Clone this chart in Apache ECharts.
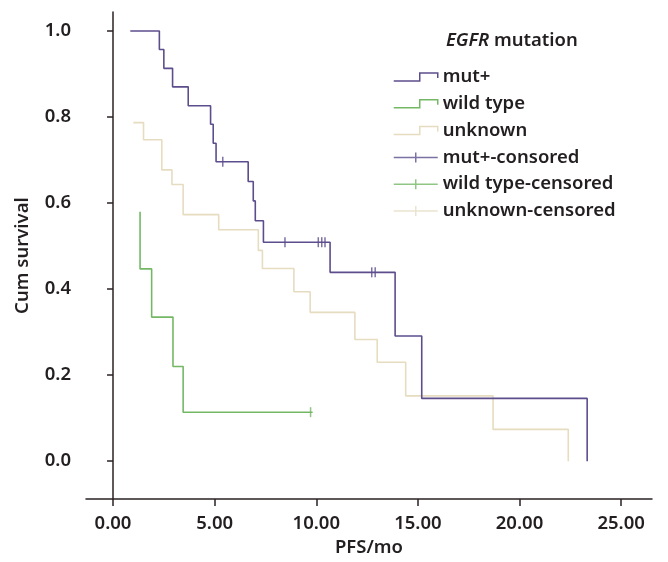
<!doctype html>
<html>
<head>
<meta charset="utf-8">
<script src="https://cdn.jsdelivr.net/npm/echarts@6/dist/echarts.min.js"></script>
<style>
    html, body {margin: 0; padding: 0; background: #fff;}
    #chart {width: 668px; height: 562px;}
</style>
</head>
<body>
<div id="chart"></div>
<script>
    // 读图估计的数据 (PFS 月, 累计生存率)
    var mutTimes = [0.85, 2.28, 2.5, 2.93, 3.7, 4.8, 4.93, 5.07, 6.65, 6.9, 7.0, 7.4, 10.68, 13.88, 15.19, 23.33];
    var mutSurv = [1.0, 0.957, 0.913, 0.870, 0.826, 0.783, 0.739, 0.696, 0.650, 0.605, 0.559, 0.509, 0.439, 0.291, 0.146, 0.0];
    var mutCensT = [5.4, 8.46, 10.1, 10.27, 10.43, 12.73, 12.9];
    var mutCensS = [0.696, 0.509, 0.509, 0.509, 0.509, 0.439, 0.439];

    var wildTimes = [1.33, 1.33, 1.9, 2.95, 3.45, 9.82];
    var wildSurv = [0.58, 0.447, 0.335, 0.22, 0.114, 0.114];
    var wildCensT = [9.72];
    var wildCensS = [0.114];

    var unkTimes = [1.0, 1.5, 2.4, 2.9, 3.45, 5.2, 7.15, 7.35, 8.9, 9.7, 11.9, 13.0, 14.4, 18.7, 22.4];
    var unkSurv = [0.787, 0.747, 0.677, 0.643, 0.573, 0.538, 0.49, 0.448, 0.394, 0.346, 0.283, 0.230, 0.152, 0.074, 0.0];
    var unkCensT = [];
    var unkCensS = [];

    var xTicks = [0, 5, 10, 15, 20, 25];
    var yTicks = [0, 0.2, 0.4, 0.6, 0.8, 1.0];

    function pairs(xs, ys) {
        var out = [];
        for (var i = 0; i < xs.length; i++) out.push([xs[i], ys[i]]);
        return out;
    }

    var cMut = '#5d4d8d', cWild = '#74b865', cUnk = '#e6dcc0';
    var font = '"Noto Sans", sans-serif';
    var txt = '#231f20';
    var stepIcon = 'path://M0,9 L26,9 L26,1 L44,1 L44,6';
    var censIcon = 'path://M0,5 L44,5 M22,0 L22,10';

    function legendItem(name, icon, color) {
        return {
            name: name, icon: icon,
            itemStyle: {color: 'rgba(0,0,0,0)', borderColor: color, borderWidth: 1.5}
        };
    }

    var myChart = echarts.init(document.getElementById('chart'));
    var option = {
        animation: false,
        backgroundColor: '#fff',
        title: {
            text: '{i|EGFR} mutation',
            left: 446, top: 31, padding: 0,
            textStyle: {
                fontFamily: font, fontSize: 18.5, fontWeight: 600, color: txt,
                rich: {i: {fontFamily: font, fontSize: 18.5, fontWeight: 600, fontStyle: 'italic', color: txt}}
            }
        },
        legend: {
            orient: 'vertical',
            left: 393, top: 67, padding: 0,
            itemWidth: 44, itemHeight: 10,
            itemGap: 6.8,
            selectedMode: false,
            textStyle: {fontFamily: font, fontSize: 18.5, fontWeight: 600, color: txt, lineHeight: 20},
            data: [
                legendItem('mut+', stepIcon, cMut),
                legendItem('wild type', stepIcon, cWild),
                legendItem('unknown', stepIcon, cUnk),
                legendItem('mut+-consored', censIcon, cMut),
                legendItem('wild type-censored', censIcon, cWild),
                legendItem('unknown-censored', censIcon, cUnk)
            ]
        },
        grid: {left: 86, right: 16, top: 12, bottom: 62},
        xAxis: {
            type: 'value',
            min: -1.33, max: 26.52,
            name: 'PFS/mo',
            nameLocation: 'middle',
            nameGap: 38,
            nameTextStyle: {fontFamily: font, fontSize: 18.5, fontWeight: 600, color: txt},
            axisLine: {onZero: false, lineStyle: {color: '#2b2223', width: 1.5}},
            axisTick: {show: true, length: 7, customValues: xTicks, lineStyle: {color: '#2b2223', width: 1.5}},
            axisLabel: {
                customValues: xTicks, margin: 15,
                fontFamily: font, fontSize: 18.5, fontWeight: 600, color: txt,
                formatter: function (v) { return v.toFixed(2); }
            },
            splitLine: {show: false}
        },
        yAxis: {
            type: 'value',
            min: -0.088, max: 1.044,
            name: 'Cum survival',
            nameLocation: 'middle',
            nameGap: 54,
            nameTextStyle: {fontFamily: font, fontSize: 18.5, fontWeight: 600, color: txt},
            axisLine: {show: true, lineStyle: {color: '#2b2223', width: 1.5}},
            axisTick: {show: true, length: 6, customValues: yTicks, lineStyle: {color: '#2b2223', width: 1.5}},
            axisLabel: {
                customValues: yTicks, margin: 15,
                fontFamily: font, fontSize: 18.5, fontWeight: 600, color: txt,
                formatter: function (v) { return v.toFixed(1); }
            },
            splitLine: {show: false}
        },
        series: [
            {
                name: 'unknown', type: 'line', step: 'end', symbol: 'none',
                lineStyle: {color: cUnk, width: 1.6}, itemStyle: {color: cUnk},
                data: pairs(unkTimes, unkSurv)
            },
            {
                name: 'wild type', type: 'line', step: 'end', symbol: 'none',
                lineStyle: {color: cWild, width: 1.6}, itemStyle: {color: cWild},
                data: pairs(wildTimes, wildSurv)
            },
            {
                name: 'mut+', type: 'line', step: 'end', symbol: 'none',
                lineStyle: {color: cMut, width: 1.6}, itemStyle: {color: cMut},
                data: pairs(mutTimes, mutSurv)
            },
            {
                name: 'unknown-censored', type: 'scatter', symbol: 'rect', symbolSize: [1.5, 10],
                itemStyle: {color: cUnk}, data: pairs(unkCensT, unkCensS)
            },
            {
                name: 'wild type-censored', type: 'scatter', symbol: 'rect', symbolSize: [1.5, 10],
                itemStyle: {color: cWild}, data: pairs(wildCensT, wildCensS)
            },
            {
                name: 'mut+-consored', type: 'scatter', symbol: 'rect', symbolSize: [1.5, 10],
                itemStyle: {color: cMut}, data: pairs(mutCensT, mutCensS)
            }
        ]
    };
    myChart.setOption(option);
</script>
</body>
</html>
